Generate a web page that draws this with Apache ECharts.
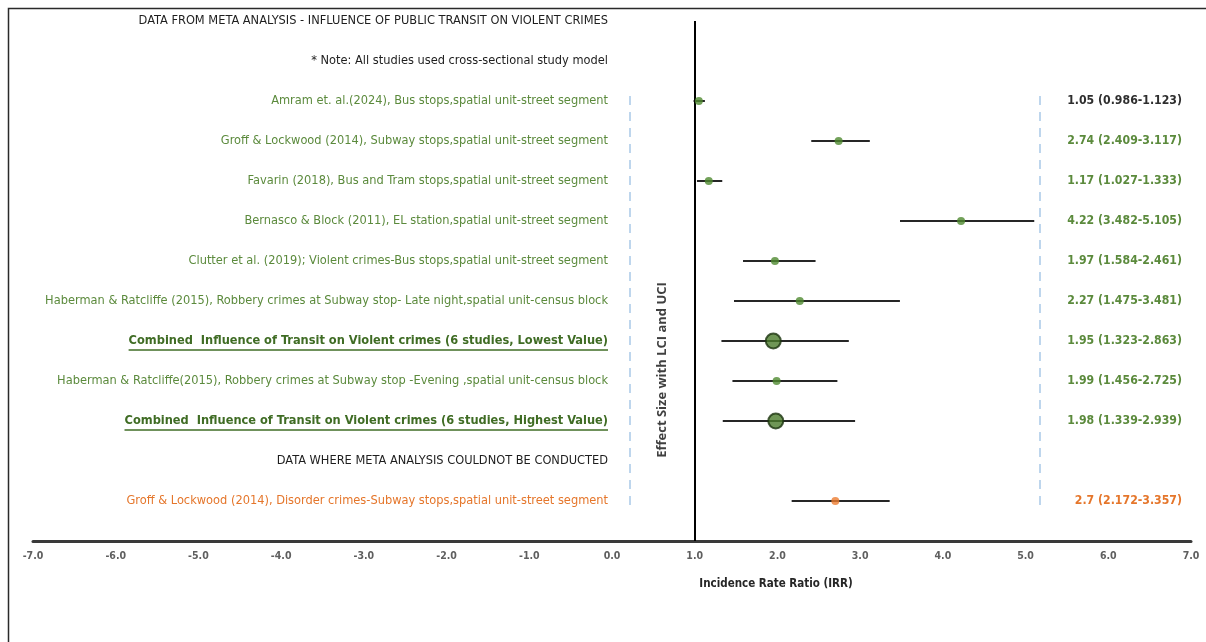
<!DOCTYPE html>
<html>
<head>
<meta charset="utf-8">
<script src="https://cdn.jsdelivr.net/npm/echarts@6/dist/echarts.min.js"></script>
<style>
  html, body { margin: 0; padding: 0; background: #ffffff; }
  #chart { width: 1206px; height: 642px; }
</style>
</head>
<body>
<div id="chart"></div>
<script>
// ---- Forest plot data: one row per line of the table ----
const rowLabels = [
  'DATA FROM META ANALYSIS - INFLUENCE OF PUBLIC TRANSIT ON VIOLENT CRIMES',
  '* Note: All studies used cross-sectional study model',
  'Amram et. al.(2024), Bus stops,spatial unit-street segment',
  'Groff & Lockwood (2014), Subway stops,spatial unit-street segment',
  'Favarin (2018), Bus and Tram stops,spatial unit-street segment',
  'Bernasco & Block (2011), EL station,spatial unit-street segment',
  'Clutter et al. (2019); Violent crimes-Bus stops,spatial unit-street segment',
  'Haberman & Ratcliffe (2015), Robbery crimes at Subway stop- Late night,spatial unit-census block',
  'Combined  Influence of Transit on Violent crimes (6 studies, Lowest Value)',
  'Haberman & Ratcliffe(2015), Robbery crimes at Subway stop -Evening ,spatial unit-census block',
  'Combined  Influence of Transit on Violent crimes (6 studies, Highest Value)',
  'DATA WHERE META ANALYSIS COULDNOT BE CONDUCTED',
  'Groff & Lockwood (2014), Disorder crimes-Subway stops,spatial unit-street segment'
];
const rowKinds = ['heading', 'heading', 'study', 'study', 'study', 'study', 'study',
                  'study', 'pooled', 'study', 'pooled', 'heading', 'disorder'];
// Incidence rate ratio with lower / upper confidence limits
const irr = [null, null, 1.05, 2.74, 1.17, 4.22, 1.97, 2.27, 1.95, 1.99, 1.98, null, 2.7];
const lci = [null, null, 0.986, 2.409, 1.027, 3.482, 1.584, 1.475, 1.323, 1.456, 1.339, null, 2.172];
const uci = [null, null, 1.123, 3.117, 1.333, 5.105, 2.461, 3.481, 2.863, 2.725, 2.939, null, 3.357];
// Axis range and reference line
const xMin = -7, xMax = 7, xStep = 1;
const nullLine = 1;
const guideLines = [0.21, 5.17];
const xAxisTitle = 'Incidence Rate Ratio (IRR)';
const sideTitle = 'Effect Size with LCI and UCI';

// ---- Styles ----
const FONT = "'DejaVu Sans Condensed', 'Liberation Sans Narrow', sans-serif";
const GREEN_TEXT = '#5b8a3c';
const GREEN_DARK = '#3f6c24';
const ORANGE = '#e5762b';
const INK = '#1e1e1e';
const LABEL_SIZE = 12.7;
const labelStyle = {
  heading:  { color: INK, weight: 'normal', underline: false },
  study:    { color: GREEN_TEXT, weight: 'normal', underline: false },
  pooled:   { color: GREEN_DARK, weight: 'bold', underline: true },
  disorder: { color: ORANGE, weight: 'normal', underline: false }
};
const markerStyle = {
  study:    { size: 8,  fill: '#4f8a30', stroke: '#4f8a30', width: 0 },
  pooled:   { size: 15, fill: '#4b7c2c', stroke: '#1d3510', width: 2 },
  disorder: { size: 8,  fill: '#ec7c30', stroke: '#ec7c30', width: 0 }
};
function valueColor(i) {
  if (rowKinds[i] === 'disorder') return ORANGE;
  return i === 2 ? '#2e2e2e' : GREEN_TEXT;
}

const measureCtx = document.createElement('canvas').getContext('2d');
function textWidth(text, weight, size) {
  measureCtx.font = `${weight} ${size}px ${FONT}`;
  return measureCtx.measureText(text).width;
}

const rowIdx = rowLabels.map((_, i) => i);
const dataRows = rowIdx.filter(i => irr[i] !== null);

function renderRowLabel(params, api) {
  const i = params.dataIndex;
  const st = labelStyle[rowKinds[i]];
  const pt = api.coord([0, i]);
  const x = pt[0] - 4, y = pt[1];
  const children = [{
    type: 'text', x: x, y: y, silent: true,
    style: {
      text: rowLabels[i], fill: st.color, fontFamily: FONT,
      fontSize: LABEL_SIZE, fontWeight: st.weight, align: 'right', verticalAlign: 'middle'
    }
  }];
  if (st.underline) {
    const w = textWidth(rowLabels[i], st.weight, LABEL_SIZE);
    children.push({
      type: 'line', silent: true,
      shape: { x1: x - w, y1: y + 9, x2: x, y2: y + 9 },
      style: { stroke: st.color, lineWidth: 1.3 }
    });
  }
  return { type: 'group', children: children };
}

function renderInterval(params, api) {
  const row = api.value(2);
  const a = api.coord([api.value(0), row]);
  const b = api.coord([api.value(1), row]);
  const right = api.coord([xMax, row]);
  return {
    type: 'group',
    children: [
      {
        type: 'line', silent: true,
        shape: { x1: a[0], y1: a[1], x2: b[0], y2: b[1] },
        style: { stroke: '#262626', lineWidth: 2 }
      },
      {
        type: 'text', silent: true, x: right[0] - 9, y: right[1],
        style: {
          text: `${api.value(3)} (${api.value(0)}-${api.value(1)})`,
          fill: valueColor(row), fontFamily: FONT, fontSize: 12.2, fontWeight: 'bold',
          align: 'right', verticalAlign: 'middle'
        }
      }
    ]
  };
}

const chart = echarts.init(document.getElementById('chart'), null, { renderer: 'canvas' });
chart.setOption({
  animation: false,
  backgroundColor: '#ffffff',
  grid: { left: 33, right: 15, top: 21, bottom: 101, containLabel: false },
  xAxis: {
    type: 'value', min: xMin, max: xMax, interval: xStep,
    axisLine: { show: true, onZero: false, lineStyle: { color: '#3a3a3a', width: 3 } },
    axisTick: { show: false },
    splitLine: { show: false },
    axisLabel: {
      color: '#5f5f5f', fontFamily: FONT, fontSize: 10.5, fontWeight: 'bold', margin: 10,
      formatter: v => v.toFixed(1)
    },
    name: xAxisTitle, nameLocation: 'middle', nameGap: 37,
    nameTextStyle: {
      color: '#262626', fontFamily: FONT, fontSize: 11.5, fontWeight: 'bold',
      padding: [0, 0, 0, 328]
    }
  },
  yAxis: { type: 'value', min: 0, max: 13, inverse: true, show: false },
  graphic: [
    {
      type: 'rect', silent: true,
      shape: { x: 8.5, y: 8.5, width: 1400, height: 900 },
      style: { fill: 'none', stroke: '#2a2a2a', lineWidth: 1.5 }
    },
    {
      type: 'text', silent: true, x: 662, y: 370, rotation: Math.PI / 2,
      style: {
        text: sideTitle, fill: '#404040', fontFamily: "'Open Sans', sans-serif",
        fontSize: 13, fontWeight: 'bold', align: 'center', verticalAlign: 'middle'
      }
    }
  ],
  series: [
    {
      type: 'custom', name: 'labels', silent: true,
      renderItem: renderRowLabel,
      encode: { x: 0, y: 1 },
      data: rowIdx.map(i => [0, i])
    },
    {
      type: 'custom', name: 'interval', silent: true,
      renderItem: renderInterval,
      encode: { x: [0, 1], y: 2 },
      data: dataRows.map(i => [lci[i], uci[i], i, irr[i]]),
      markLine: {
        silent: true, symbol: 'none', label: { show: false },
        data: [
          [{ coord: [guideLines[0], 1.875] }, { coord: [guideLines[0], 12.125] }],
          [{ coord: [guideLines[1], 1.875] }, { coord: [guideLines[1], 12.125] }]
        ],
        lineStyle: { color: '#a9c9e8', width: 1.5, type: [9, 7] }
      }
    },
    {
      type: 'scatter', name: 'IRR', silent: true, z: 5,
      symbol: 'circle',
      data: dataRows.map(i => {
        const m = markerStyle[rowKinds[i]];
        return {
          value: [irr[i], i],
          symbolSize: m.size,
          itemStyle: { color: m.fill, borderColor: m.stroke, borderWidth: m.width }
        };
      }),
      markLine: {
        silent: true, symbol: 'none', label: { show: false },
        data: [{ xAxis: nullLine }],
        lineStyle: { color: '#000000', width: 2, type: 'solid' }
      }
    }
  ]
});
</script>
</body>
</html>
